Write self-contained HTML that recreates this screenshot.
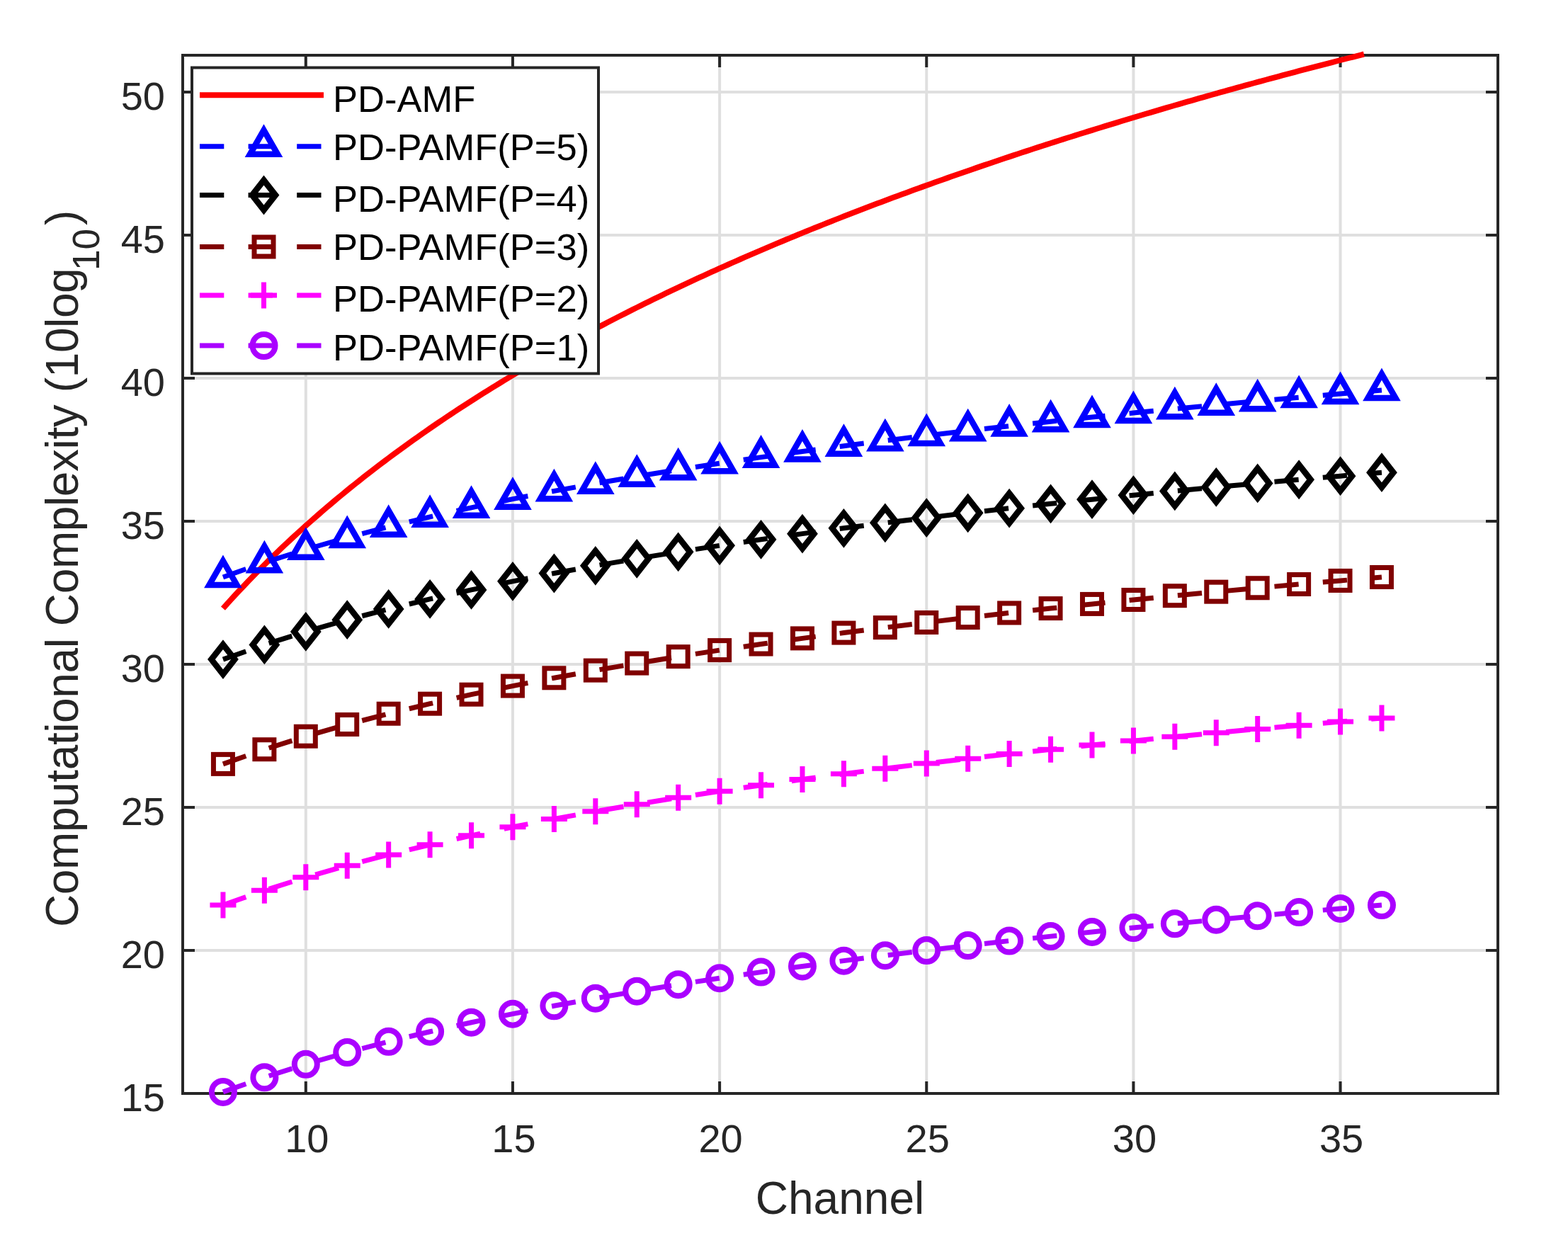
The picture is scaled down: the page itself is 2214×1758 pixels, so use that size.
<!DOCTYPE html>
<html><head><meta charset="utf-8"><title>Computational Complexity vs Channel</title>
<style>html,body{margin:0;padding:0;background:#fff;}body{width:2214px;height:1758px;overflow:hidden;}svg{display:block;}</style>
</head><body>
<svg width="2214" height="1758" viewBox="0 0 2214 1758">
<rect width="2214" height="1758" fill="#fff"/>
<defs><clipPath id="ax"><rect x="258" y="71" width="1857" height="1472"/></clipPath><clipPath id="axl"><rect x="198" y="18" width="1977" height="1586"/></clipPath></defs>
<path d="M431.8 78V1544M723.95 78V1544M1016.1 78V1544M1308.25 78V1544M1600.4 78V1544M1892.55 78V1544M258 1544H2115M258 1342H2115M258 1140H2115M258 938H2115M258 736H2115M258 534H2115M258 332H2115M258 130H2115" stroke="#dfdfdf" stroke-width="4" fill="none"/>
<path d="M431.8 1544V1527M431.8 78V95M723.95 1544V1527M723.95 78V95M1016.1 1544V1527M1016.1 78V95M1308.25 1544V1527M1308.25 78V95M1600.4 1544V1527M1600.4 78V95M1892.55 1544V1527M1892.55 78V95M258 1544H275M2115 1544H2098M258 1342H275M2115 1342H2098M258 1140H275M2115 1140H2098M258 938H275M2115 938H2098M258 736H275M2115 736H2098M258 534H275M2115 534H2098M258 332H275M2115 332H2098M258 130H275M2115 130H2098" stroke="#262626" stroke-width="4" fill="none"/>
<rect x="258" y="78" width="1857" height="1466" fill="none" stroke="#262626" stroke-width="4"/>
<g><path d="M314.94 859.08L320.78 852.59L326.63 846.17L332.47 839.83L338.31 833.57L344.15 827.38L350 821.26L355.84 815.22L361.68 809.24L367.53 803.33L373.37 797.48L379.21 791.7L385.06 785.98L390.9 780.33L396.74 774.73L402.58 769.19L408.43 763.71L414.27 758.29L420.11 752.92L425.96 747.6L431.8 742.34L437.64 737.13L443.49 731.98L449.33 726.87L455.17 721.81L461.01 716.8L466.86 711.84L472.7 706.92L478.54 702.05L484.39 697.22L490.23 692.44L496.07 687.7L501.92 683L507.76 678.34L513.6 673.73L519.44 669.15L525.29 664.62L531.13 660.12L536.97 655.66L542.82 651.24L548.66 646.86L554.5 642.51L560.35 638.19L566.19 633.92L572.03 629.67L577.87 625.46L583.72 621.29L589.56 617.15L595.4 613.03L601.25 608.96L607.09 604.91L612.93 600.89L618.78 596.91L624.62 592.95L630.46 589.02L636.3 585.13L642.15 581.26L647.99 577.42L653.83 573.6L659.68 569.82L665.52 566.06L671.36 562.33L677.21 558.62L683.05 554.94L688.89 551.29L694.73 547.66L700.58 544.06L706.42 540.48L712.26 536.92L718.11 533.39L723.95 529.88L729.79 526.4L735.64 522.94L741.48 519.5L747.32 516.08L753.16 512.68L759.01 509.31L764.85 505.96L770.69 502.63L776.54 499.32L782.38 496.03L788.22 492.76L794.07 489.51L799.91 486.29L805.75 483.08L811.59 479.89L817.44 476.72L823.28 473.57L829.12 470.44L834.97 467.32L840.81 464.23L846.65 461.15L852.5 458.09L858.34 455.05L864.18 452.02L870.02 449.02L875.87 446.03L881.71 443.06L887.55 440.1L893.4 437.16L899.24 434.24L905.08 431.33L910.93 428.44L916.77 425.56L922.61 422.7L928.46 419.86L934.3 417.03L940.14 414.21L945.98 411.42L951.83 408.63L957.67 405.86L963.51 403.11L969.36 400.37L975.2 397.64L981.04 394.93L986.89 392.23L992.73 389.54L998.57 386.87L1004.41 384.21L1010.26 381.57L1016.1 378.94L1021.94 376.32L1027.79 373.72L1033.63 371.12L1039.47 368.54L1045.32 365.98L1051.16 363.42L1057 360.88L1062.84 358.35L1068.69 355.83L1074.53 353.33L1080.37 350.83L1086.22 348.35L1092.06 345.88L1097.9 343.42L1103.75 340.97L1109.59 338.54L1115.43 336.11L1121.27 333.7L1127.12 331.29L1132.96 328.9L1138.8 326.52L1144.65 324.15L1150.49 321.79L1156.33 319.44L1162.18 317.1L1168.02 314.77L1173.86 312.46L1179.7 310.15L1185.55 307.85L1191.39 305.56L1197.23 303.28L1203.08 301.02L1208.92 298.76L1214.76 296.51L1220.61 294.27L1226.45 292.04L1232.29 289.82L1238.13 287.61L1243.98 285.41L1249.82 283.21L1255.66 281.03L1261.51 278.85L1267.35 276.69L1273.19 274.53L1279.04 272.38L1284.88 270.24L1290.72 268.11L1296.56 265.99L1302.41 263.88L1308.25 261.77L1314.09 259.68L1319.94 257.59L1325.78 255.51L1331.62 253.44L1337.47 251.37L1343.31 249.32L1349.15 247.27L1354.99 245.23L1360.84 243.2L1366.68 241.17L1372.52 239.16L1378.37 237.15L1384.21 235.15L1390.05 233.15L1395.9 231.17L1401.74 229.19L1407.58 227.22L1413.42 225.26L1419.27 223.3L1425.11 221.35L1430.95 219.41L1436.8 217.47L1442.64 215.55L1448.48 213.63L1454.33 211.71L1460.17 209.8L1466.01 207.91L1471.85 206.01L1477.7 204.13L1483.54 202.25L1489.38 200.37L1495.23 198.51L1501.07 196.65L1506.91 194.79L1512.76 192.95L1518.6 191.11L1524.44 189.27L1530.28 187.45L1536.13 185.63L1541.97 183.81L1547.81 182L1553.66 180.2L1559.5 178.4L1565.34 176.61L1571.19 174.83L1577.03 173.05L1582.87 171.28L1588.71 169.51L1594.56 167.75L1600.4 166L1606.24 164.25L1612.09 162.51L1617.93 160.77L1623.77 159.04L1629.62 157.32L1635.46 155.6L1641.3 153.88L1647.14 152.17L1652.99 150.47L1658.83 148.77L1664.67 147.08L1670.52 145.39L1676.36 143.71L1682.2 142.04L1688.05 140.36L1693.89 138.7L1699.73 137.04L1705.57 135.38L1711.42 133.73L1717.26 132.09L1723.1 130.45L1728.95 128.82L1734.79 127.19L1740.63 125.56L1746.48 123.94L1752.32 122.33L1758.16 120.72L1764 119.11L1769.85 117.51L1775.69 115.92L1781.53 114.33L1787.38 112.75L1793.22 111.16L1799.06 109.59L1804.91 108.02L1810.75 106.45L1816.59 104.89L1822.43 103.33L1828.28 101.78L1834.12 100.23L1839.96 98.69L1845.81 97.15L1851.65 95.62L1857.49 94.09L1863.34 92.56L1869.18 91.04L1875.02 89.52L1880.86 88.01L1886.71 86.5L1892.55 85L1898.39 83.5L1904.24 82L1910.08 80.51L1915.92 79.03L1921.77 77.54L1925.89 76.5" fill="none" stroke="#ff0000" stroke-width="8"/><path d="M314.94 814.99L373.37 794.32L431.8 775.83L490.23 759.11L548.66 743.84L607.09 729.8L665.52 716.8L723.95 704.69L782.38 693.37L840.81 682.73L899.24 672.7L957.67 663.22L1016.1 654.22L1074.53 645.66L1132.96 637.5L1191.39 629.7L1249.82 622.23L1308.25 615.07L1366.68 608.18L1425.11 601.56L1483.54 595.18L1541.97 589.03L1600.4 583.08L1658.83 577.32L1717.26 571.75L1775.69 566.35L1834.12 561.12L1892.55 556.03L1950.98 551.09" fill="none" stroke="#0000ff" stroke-width="7" stroke-dasharray="34.3 34.3"/><polygon points="314.94,791.99 334.44,825.99 295.44,825.99" fill="none" stroke="#0000ff" stroke-width="8.5" stroke-linejoin="miter"/><polygon points="373.37,771.32 392.87,805.32 353.87,805.32" fill="none" stroke="#0000ff" stroke-width="8.5" stroke-linejoin="miter"/><polygon points="431.8,752.83 451.3,786.83 412.3,786.83" fill="none" stroke="#0000ff" stroke-width="8.5" stroke-linejoin="miter"/><polygon points="490.23,736.11 509.73,770.11 470.73,770.11" fill="none" stroke="#0000ff" stroke-width="8.5" stroke-linejoin="miter"/><polygon points="548.66,720.84 568.16,754.84 529.16,754.84" fill="none" stroke="#0000ff" stroke-width="8.5" stroke-linejoin="miter"/><polygon points="607.09,706.8 626.59,740.8 587.59,740.8" fill="none" stroke="#0000ff" stroke-width="8.5" stroke-linejoin="miter"/><polygon points="665.52,693.8 685.02,727.8 646.02,727.8" fill="none" stroke="#0000ff" stroke-width="8.5" stroke-linejoin="miter"/><polygon points="723.95,681.69 743.45,715.69 704.45,715.69" fill="none" stroke="#0000ff" stroke-width="8.5" stroke-linejoin="miter"/><polygon points="782.38,670.37 801.88,704.37 762.88,704.37" fill="none" stroke="#0000ff" stroke-width="8.5" stroke-linejoin="miter"/><polygon points="840.81,659.73 860.31,693.73 821.31,693.73" fill="none" stroke="#0000ff" stroke-width="8.5" stroke-linejoin="miter"/><polygon points="899.24,649.7 918.74,683.7 879.74,683.7" fill="none" stroke="#0000ff" stroke-width="8.5" stroke-linejoin="miter"/><polygon points="957.67,640.22 977.17,674.22 938.17,674.22" fill="none" stroke="#0000ff" stroke-width="8.5" stroke-linejoin="miter"/><polygon points="1016.1,631.22 1035.6,665.22 996.6,665.22" fill="none" stroke="#0000ff" stroke-width="8.5" stroke-linejoin="miter"/><polygon points="1074.53,622.66 1094.03,656.66 1055.03,656.66" fill="none" stroke="#0000ff" stroke-width="8.5" stroke-linejoin="miter"/><polygon points="1132.96,614.5 1152.46,648.5 1113.46,648.5" fill="none" stroke="#0000ff" stroke-width="8.5" stroke-linejoin="miter"/><polygon points="1191.39,606.7 1210.89,640.7 1171.89,640.7" fill="none" stroke="#0000ff" stroke-width="8.5" stroke-linejoin="miter"/><polygon points="1249.82,599.23 1269.32,633.23 1230.32,633.23" fill="none" stroke="#0000ff" stroke-width="8.5" stroke-linejoin="miter"/><polygon points="1308.25,592.07 1327.75,626.07 1288.75,626.07" fill="none" stroke="#0000ff" stroke-width="8.5" stroke-linejoin="miter"/><polygon points="1366.68,585.18 1386.18,619.18 1347.18,619.18" fill="none" stroke="#0000ff" stroke-width="8.5" stroke-linejoin="miter"/><polygon points="1425.11,578.56 1444.61,612.56 1405.61,612.56" fill="none" stroke="#0000ff" stroke-width="8.5" stroke-linejoin="miter"/><polygon points="1483.54,572.18 1503.04,606.18 1464.04,606.18" fill="none" stroke="#0000ff" stroke-width="8.5" stroke-linejoin="miter"/><polygon points="1541.97,566.03 1561.47,600.03 1522.47,600.03" fill="none" stroke="#0000ff" stroke-width="8.5" stroke-linejoin="miter"/><polygon points="1600.4,560.08 1619.9,594.08 1580.9,594.08" fill="none" stroke="#0000ff" stroke-width="8.5" stroke-linejoin="miter"/><polygon points="1658.83,554.32 1678.33,588.32 1639.33,588.32" fill="none" stroke="#0000ff" stroke-width="8.5" stroke-linejoin="miter"/><polygon points="1717.26,548.75 1736.76,582.75 1697.76,582.75" fill="none" stroke="#0000ff" stroke-width="8.5" stroke-linejoin="miter"/><polygon points="1775.69,543.35 1795.19,577.35 1756.19,577.35" fill="none" stroke="#0000ff" stroke-width="8.5" stroke-linejoin="miter"/><polygon points="1834.12,538.12 1853.62,572.12 1814.62,572.12" fill="none" stroke="#0000ff" stroke-width="8.5" stroke-linejoin="miter"/><polygon points="1892.55,533.03 1912.05,567.03 1873.05,567.03" fill="none" stroke="#0000ff" stroke-width="8.5" stroke-linejoin="miter"/><polygon points="1950.98,528.09 1970.48,562.09 1931.48,562.09" fill="none" stroke="#0000ff" stroke-width="8.5" stroke-linejoin="miter"/><path d="M314.94 931.12L373.37 910.45L431.8 891.97L490.23 875.24L548.66 859.98L607.09 845.93L665.52 832.93L723.95 820.83L782.38 809.5L840.81 798.87L899.24 788.84L957.67 779.35L1016.1 770.35L1074.53 761.79L1132.96 753.63L1191.39 745.83L1249.82 738.36L1308.25 731.2L1366.68 724.32L1425.11 717.7L1483.54 711.32L1541.97 705.16L1600.4 699.21L1658.83 693.46L1717.26 687.89L1775.69 682.49L1834.12 677.25L1892.55 672.16L1950.98 667.22" fill="none" stroke="#000000" stroke-width="7" stroke-dasharray="34.3 34.3"/><polygon points="314.94,910.12 331.44,931.12 314.94,952.12 298.44,931.12" fill="none" stroke="#000000" stroke-width="8.5" stroke-linejoin="miter"/><polygon points="373.37,889.45 389.87,910.45 373.37,931.45 356.87,910.45" fill="none" stroke="#000000" stroke-width="8.5" stroke-linejoin="miter"/><polygon points="431.8,870.97 448.3,891.97 431.8,912.97 415.3,891.97" fill="none" stroke="#000000" stroke-width="8.5" stroke-linejoin="miter"/><polygon points="490.23,854.24 506.73,875.24 490.23,896.24 473.73,875.24" fill="none" stroke="#000000" stroke-width="8.5" stroke-linejoin="miter"/><polygon points="548.66,838.98 565.16,859.98 548.66,880.98 532.16,859.98" fill="none" stroke="#000000" stroke-width="8.5" stroke-linejoin="miter"/><polygon points="607.09,824.93 623.59,845.93 607.09,866.93 590.59,845.93" fill="none" stroke="#000000" stroke-width="8.5" stroke-linejoin="miter"/><polygon points="665.52,811.93 682.02,832.93 665.52,853.93 649.02,832.93" fill="none" stroke="#000000" stroke-width="8.5" stroke-linejoin="miter"/><polygon points="723.95,799.83 740.45,820.83 723.95,841.83 707.45,820.83" fill="none" stroke="#000000" stroke-width="8.5" stroke-linejoin="miter"/><polygon points="782.38,788.5 798.88,809.5 782.38,830.5 765.88,809.5" fill="none" stroke="#000000" stroke-width="8.5" stroke-linejoin="miter"/><polygon points="840.81,777.87 857.31,798.87 840.81,819.87 824.31,798.87" fill="none" stroke="#000000" stroke-width="8.5" stroke-linejoin="miter"/><polygon points="899.24,767.84 915.74,788.84 899.24,809.84 882.74,788.84" fill="none" stroke="#000000" stroke-width="8.5" stroke-linejoin="miter"/><polygon points="957.67,758.35 974.17,779.35 957.67,800.35 941.17,779.35" fill="none" stroke="#000000" stroke-width="8.5" stroke-linejoin="miter"/><polygon points="1016.1,749.35 1032.6,770.35 1016.1,791.35 999.6,770.35" fill="none" stroke="#000000" stroke-width="8.5" stroke-linejoin="miter"/><polygon points="1074.53,740.79 1091.03,761.79 1074.53,782.79 1058.03,761.79" fill="none" stroke="#000000" stroke-width="8.5" stroke-linejoin="miter"/><polygon points="1132.96,732.63 1149.46,753.63 1132.96,774.63 1116.46,753.63" fill="none" stroke="#000000" stroke-width="8.5" stroke-linejoin="miter"/><polygon points="1191.39,724.83 1207.89,745.83 1191.39,766.83 1174.89,745.83" fill="none" stroke="#000000" stroke-width="8.5" stroke-linejoin="miter"/><polygon points="1249.82,717.36 1266.32,738.36 1249.82,759.36 1233.32,738.36" fill="none" stroke="#000000" stroke-width="8.5" stroke-linejoin="miter"/><polygon points="1308.25,710.2 1324.75,731.2 1308.25,752.2 1291.75,731.2" fill="none" stroke="#000000" stroke-width="8.5" stroke-linejoin="miter"/><polygon points="1366.68,703.32 1383.18,724.32 1366.68,745.32 1350.18,724.32" fill="none" stroke="#000000" stroke-width="8.5" stroke-linejoin="miter"/><polygon points="1425.11,696.7 1441.61,717.7 1425.11,738.7 1408.61,717.7" fill="none" stroke="#000000" stroke-width="8.5" stroke-linejoin="miter"/><polygon points="1483.54,690.32 1500.04,711.32 1483.54,732.32 1467.04,711.32" fill="none" stroke="#000000" stroke-width="8.5" stroke-linejoin="miter"/><polygon points="1541.97,684.16 1558.47,705.16 1541.97,726.16 1525.47,705.16" fill="none" stroke="#000000" stroke-width="8.5" stroke-linejoin="miter"/><polygon points="1600.4,678.21 1616.9,699.21 1600.4,720.21 1583.9,699.21" fill="none" stroke="#000000" stroke-width="8.5" stroke-linejoin="miter"/><polygon points="1658.83,672.46 1675.33,693.46 1658.83,714.46 1642.33,693.46" fill="none" stroke="#000000" stroke-width="8.5" stroke-linejoin="miter"/><polygon points="1717.26,666.89 1733.76,687.89 1717.26,708.89 1700.76,687.89" fill="none" stroke="#000000" stroke-width="8.5" stroke-linejoin="miter"/><polygon points="1775.69,661.49 1792.19,682.49 1775.69,703.49 1759.19,682.49" fill="none" stroke="#000000" stroke-width="8.5" stroke-linejoin="miter"/><polygon points="1834.12,656.25 1850.62,677.25 1834.12,698.25 1817.62,677.25" fill="none" stroke="#000000" stroke-width="8.5" stroke-linejoin="miter"/><polygon points="1892.55,651.16 1909.05,672.16 1892.55,693.16 1876.05,672.16" fill="none" stroke="#000000" stroke-width="8.5" stroke-linejoin="miter"/><polygon points="1950.98,646.22 1967.48,667.22 1950.98,688.22 1934.48,667.22" fill="none" stroke="#000000" stroke-width="8.5" stroke-linejoin="miter"/><path d="M314.94 1078.88L373.37 1058.22L431.8 1039.73L490.23 1023.01L548.66 1007.74L607.09 993.7L665.52 980.7L723.95 968.59L782.38 957.27L840.81 946.63L899.24 936.6L957.67 927.12L1016.1 918.12L1074.53 909.56L1132.96 901.39L1191.39 893.59L1249.82 886.13L1308.25 878.96L1366.68 872.08L1425.11 865.46L1483.54 859.08L1541.97 852.92L1600.4 846.98L1658.83 841.22L1717.26 835.65L1775.69 830.25L1834.12 825.01L1892.55 819.93L1950.98 814.99" fill="none" stroke="#800000" stroke-width="7" stroke-dasharray="34.3 34.3"/><rect x="301.44" y="1065.38" width="27.0" height="27.0" fill="none" stroke="#800000" stroke-width="7"/><rect x="359.87" y="1044.72" width="27.0" height="27.0" fill="none" stroke="#800000" stroke-width="7"/><rect x="418.3" y="1026.23" width="27.0" height="27.0" fill="none" stroke="#800000" stroke-width="7"/><rect x="476.73" y="1009.51" width="27.0" height="27.0" fill="none" stroke="#800000" stroke-width="7"/><rect x="535.16" y="994.24" width="27.0" height="27.0" fill="none" stroke="#800000" stroke-width="7"/><rect x="593.59" y="980.2" width="27.0" height="27.0" fill="none" stroke="#800000" stroke-width="7"/><rect x="652.02" y="967.2" width="27.0" height="27.0" fill="none" stroke="#800000" stroke-width="7"/><rect x="710.45" y="955.09" width="27.0" height="27.0" fill="none" stroke="#800000" stroke-width="7"/><rect x="768.88" y="943.77" width="27.0" height="27.0" fill="none" stroke="#800000" stroke-width="7"/><rect x="827.31" y="933.13" width="27.0" height="27.0" fill="none" stroke="#800000" stroke-width="7"/><rect x="885.74" y="923.1" width="27.0" height="27.0" fill="none" stroke="#800000" stroke-width="7"/><rect x="944.17" y="913.62" width="27.0" height="27.0" fill="none" stroke="#800000" stroke-width="7"/><rect x="1002.6" y="904.62" width="27.0" height="27.0" fill="none" stroke="#800000" stroke-width="7"/><rect x="1061.03" y="896.06" width="27.0" height="27.0" fill="none" stroke="#800000" stroke-width="7"/><rect x="1119.46" y="887.89" width="27.0" height="27.0" fill="none" stroke="#800000" stroke-width="7"/><rect x="1177.89" y="880.09" width="27.0" height="27.0" fill="none" stroke="#800000" stroke-width="7"/><rect x="1236.32" y="872.63" width="27.0" height="27.0" fill="none" stroke="#800000" stroke-width="7"/><rect x="1294.75" y="865.46" width="27.0" height="27.0" fill="none" stroke="#800000" stroke-width="7"/><rect x="1353.18" y="858.58" width="27.0" height="27.0" fill="none" stroke="#800000" stroke-width="7"/><rect x="1411.61" y="851.96" width="27.0" height="27.0" fill="none" stroke="#800000" stroke-width="7"/><rect x="1470.04" y="845.58" width="27.0" height="27.0" fill="none" stroke="#800000" stroke-width="7"/><rect x="1528.47" y="839.42" width="27.0" height="27.0" fill="none" stroke="#800000" stroke-width="7"/><rect x="1586.9" y="833.48" width="27.0" height="27.0" fill="none" stroke="#800000" stroke-width="7"/><rect x="1645.33" y="827.72" width="27.0" height="27.0" fill="none" stroke="#800000" stroke-width="7"/><rect x="1703.76" y="822.15" width="27.0" height="27.0" fill="none" stroke="#800000" stroke-width="7"/><rect x="1762.19" y="816.75" width="27.0" height="27.0" fill="none" stroke="#800000" stroke-width="7"/><rect x="1820.62" y="811.51" width="27.0" height="27.0" fill="none" stroke="#800000" stroke-width="7"/><rect x="1879.05" y="806.43" width="27.0" height="27.0" fill="none" stroke="#800000" stroke-width="7"/><rect x="1937.48" y="801.49" width="27.0" height="27.0" fill="none" stroke="#800000" stroke-width="7"/><path d="M314.94 1278.02L373.37 1257.36L431.8 1238.87L490.23 1222.15L548.66 1206.88L607.09 1192.84L665.52 1179.83L723.95 1167.73L782.38 1156.41L840.81 1145.77L899.24 1135.74L957.67 1126.25L1016.1 1117.25L1074.53 1108.69L1132.96 1100.53L1191.39 1092.73L1249.82 1085.26L1308.25 1078.1L1366.68 1071.22L1425.11 1064.6L1483.54 1058.22L1541.97 1052.06L1600.4 1046.11L1658.83 1040.36L1717.26 1034.79L1775.69 1029.39L1834.12 1024.15L1892.55 1019.07L1950.98 1014.12" fill="none" stroke="#ff00ff" stroke-width="7" stroke-dasharray="34.3 34.3"/><path d="M296.44 1278.02H333.44M314.94 1259.52V1296.52" fill="none" stroke="#ff00ff" stroke-width="7"/><path d="M354.87 1257.36H391.87M373.37 1238.86V1275.86" fill="none" stroke="#ff00ff" stroke-width="7"/><path d="M413.3 1238.87H450.3M431.8 1220.37V1257.37" fill="none" stroke="#ff00ff" stroke-width="7"/><path d="M471.73 1222.15H508.73M490.23 1203.65V1240.65" fill="none" stroke="#ff00ff" stroke-width="7"/><path d="M530.16 1206.88H567.16M548.66 1188.38V1225.38" fill="none" stroke="#ff00ff" stroke-width="7"/><path d="M588.59 1192.84H625.59M607.09 1174.34V1211.34" fill="none" stroke="#ff00ff" stroke-width="7"/><path d="M647.02 1179.83H684.02M665.52 1161.33V1198.33" fill="none" stroke="#ff00ff" stroke-width="7"/><path d="M705.45 1167.73H742.45M723.95 1149.23V1186.23" fill="none" stroke="#ff00ff" stroke-width="7"/><path d="M763.88 1156.41H800.88M782.38 1137.91V1174.91" fill="none" stroke="#ff00ff" stroke-width="7"/><path d="M822.31 1145.77H859.31M840.81 1127.27V1164.27" fill="none" stroke="#ff00ff" stroke-width="7"/><path d="M880.74 1135.74H917.74M899.24 1117.24V1154.24" fill="none" stroke="#ff00ff" stroke-width="7"/><path d="M939.17 1126.25H976.17M957.67 1107.75V1144.75" fill="none" stroke="#ff00ff" stroke-width="7"/><path d="M997.6 1117.25H1034.6M1016.1 1098.75V1135.75" fill="none" stroke="#ff00ff" stroke-width="7"/><path d="M1056.03 1108.69H1093.03M1074.53 1090.19V1127.19" fill="none" stroke="#ff00ff" stroke-width="7"/><path d="M1114.46 1100.53H1151.46M1132.96 1082.03V1119.03" fill="none" stroke="#ff00ff" stroke-width="7"/><path d="M1172.89 1092.73H1209.89M1191.39 1074.23V1111.23" fill="none" stroke="#ff00ff" stroke-width="7"/><path d="M1231.32 1085.26H1268.32M1249.82 1066.76V1103.76" fill="none" stroke="#ff00ff" stroke-width="7"/><path d="M1289.75 1078.1H1326.75M1308.25 1059.6V1096.6" fill="none" stroke="#ff00ff" stroke-width="7"/><path d="M1348.18 1071.22H1385.18M1366.68 1052.72V1089.72" fill="none" stroke="#ff00ff" stroke-width="7"/><path d="M1406.61 1064.6H1443.61M1425.11 1046.1V1083.1" fill="none" stroke="#ff00ff" stroke-width="7"/><path d="M1465.04 1058.22H1502.04M1483.54 1039.72V1076.72" fill="none" stroke="#ff00ff" stroke-width="7"/><path d="M1523.47 1052.06H1560.47M1541.97 1033.56V1070.56" fill="none" stroke="#ff00ff" stroke-width="7"/><path d="M1581.9 1046.11H1618.9M1600.4 1027.61V1064.61" fill="none" stroke="#ff00ff" stroke-width="7"/><path d="M1640.33 1040.36H1677.33M1658.83 1021.86V1058.86" fill="none" stroke="#ff00ff" stroke-width="7"/><path d="M1698.76 1034.79H1735.76M1717.26 1016.29V1053.29" fill="none" stroke="#ff00ff" stroke-width="7"/><path d="M1757.19 1029.39H1794.19M1775.69 1010.89V1047.89" fill="none" stroke="#ff00ff" stroke-width="7"/><path d="M1815.62 1024.15H1852.62M1834.12 1005.65V1042.65" fill="none" stroke="#ff00ff" stroke-width="7"/><path d="M1874.05 1019.07H1911.05M1892.55 1000.57V1037.57" fill="none" stroke="#ff00ff" stroke-width="7"/><path d="M1932.48 1014.12H1969.48M1950.98 995.62V1032.62" fill="none" stroke="#ff00ff" stroke-width="7"/><path d="M314.94 1541.92L373.37 1521.25L431.8 1502.77L490.23 1486.05L548.66 1470.78L607.09 1456.73L665.52 1443.73L723.95 1431.63L782.38 1420.3L840.81 1409.67L899.24 1399.64L957.67 1390.15L1016.1 1381.15L1074.53 1372.59L1132.96 1364.43L1191.39 1356.63L1249.82 1349.16L1308.25 1342L1366.68 1335.12L1425.11 1328.5L1483.54 1322.12L1541.97 1315.96L1600.4 1310.01L1658.83 1304.26L1717.26 1298.69L1775.69 1293.29L1834.12 1288.05L1892.55 1282.96L1950.98 1278.02" fill="none" stroke="#aa00ff" stroke-width="7" stroke-dasharray="34.3 34.3"/><circle cx="314.94" cy="1541.92" r="16" fill="none" stroke="#aa00ff" stroke-width="8"/><circle cx="373.37" cy="1521.25" r="16" fill="none" stroke="#aa00ff" stroke-width="8"/><circle cx="431.8" cy="1502.77" r="16" fill="none" stroke="#aa00ff" stroke-width="8"/><circle cx="490.23" cy="1486.05" r="16" fill="none" stroke="#aa00ff" stroke-width="8"/><circle cx="548.66" cy="1470.78" r="16" fill="none" stroke="#aa00ff" stroke-width="8"/><circle cx="607.09" cy="1456.73" r="16" fill="none" stroke="#aa00ff" stroke-width="8"/><circle cx="665.52" cy="1443.73" r="16" fill="none" stroke="#aa00ff" stroke-width="8"/><circle cx="723.95" cy="1431.63" r="16" fill="none" stroke="#aa00ff" stroke-width="8"/><circle cx="782.38" cy="1420.3" r="16" fill="none" stroke="#aa00ff" stroke-width="8"/><circle cx="840.81" cy="1409.67" r="16" fill="none" stroke="#aa00ff" stroke-width="8"/><circle cx="899.24" cy="1399.64" r="16" fill="none" stroke="#aa00ff" stroke-width="8"/><circle cx="957.67" cy="1390.15" r="16" fill="none" stroke="#aa00ff" stroke-width="8"/><circle cx="1016.1" cy="1381.15" r="16" fill="none" stroke="#aa00ff" stroke-width="8"/><circle cx="1074.53" cy="1372.59" r="16" fill="none" stroke="#aa00ff" stroke-width="8"/><circle cx="1132.96" cy="1364.43" r="16" fill="none" stroke="#aa00ff" stroke-width="8"/><circle cx="1191.39" cy="1356.63" r="16" fill="none" stroke="#aa00ff" stroke-width="8"/><circle cx="1249.82" cy="1349.16" r="16" fill="none" stroke="#aa00ff" stroke-width="8"/><circle cx="1308.25" cy="1342" r="16" fill="none" stroke="#aa00ff" stroke-width="8"/><circle cx="1366.68" cy="1335.12" r="16" fill="none" stroke="#aa00ff" stroke-width="8"/><circle cx="1425.11" cy="1328.5" r="16" fill="none" stroke="#aa00ff" stroke-width="8"/><circle cx="1483.54" cy="1322.12" r="16" fill="none" stroke="#aa00ff" stroke-width="8"/><circle cx="1541.97" cy="1315.96" r="16" fill="none" stroke="#aa00ff" stroke-width="8"/><circle cx="1600.4" cy="1310.01" r="16" fill="none" stroke="#aa00ff" stroke-width="8"/><circle cx="1658.83" cy="1304.26" r="16" fill="none" stroke="#aa00ff" stroke-width="8"/><circle cx="1717.26" cy="1298.69" r="16" fill="none" stroke="#aa00ff" stroke-width="8"/><circle cx="1775.69" cy="1293.29" r="16" fill="none" stroke="#aa00ff" stroke-width="8"/><circle cx="1834.12" cy="1288.05" r="16" fill="none" stroke="#aa00ff" stroke-width="8"/><circle cx="1892.55" cy="1282.96" r="16" fill="none" stroke="#aa00ff" stroke-width="8"/><circle cx="1950.98" cy="1278.02" r="16" fill="none" stroke="#aa00ff" stroke-width="8"/></g>
<g font-family="'Liberation Sans', Arial, Helvetica, sans-serif" font-size="56" fill="#262626"><text x="433.3" y="1627" text-anchor="middle">10</text><text x="725.45" y="1627" text-anchor="middle">15</text><text x="1017.6" y="1627" text-anchor="middle">20</text><text x="1309.75" y="1627" text-anchor="middle">25</text><text x="1601.9" y="1627" text-anchor="middle">30</text><text x="1894.05" y="1627" text-anchor="middle">35</text><text x="233" y="1569" text-anchor="end">15</text><text x="233" y="1367" text-anchor="end">20</text><text x="233" y="1165" text-anchor="end">25</text><text x="233" y="963" text-anchor="end">30</text><text x="233" y="761" text-anchor="end">35</text><text x="233" y="559" text-anchor="end">40</text><text x="233" y="357" text-anchor="end">45</text><text x="233" y="155" text-anchor="end">50</text></g>
<text x="1186" y="1714" text-anchor="middle" font-family="'Liberation Sans', Arial, Helvetica, sans-serif" font-size="64" fill="#262626">Channel</text>
<g transform="translate(110 1309) rotate(-90)" font-family="'Liberation Sans', Arial, Helvetica, sans-serif" fill="#262626"><text x="0" y="0" font-size="64" letter-spacing="-0.4">Computational Complexity (10log</text><text x="927" y="30" font-size="53">10</text><text x="991" y="0" font-size="64">)</text></g>
<g><rect x="271" y="95.5" width="574" height="432" fill="#fff" stroke="#262626" stroke-width="4"/><path d="M282 134.3H457" stroke="#ff0000" stroke-width="8"/><text x="470" y="157.9" font-family="'Liberation Sans', Arial, Helvetica, sans-serif" font-size="52.5" fill="#000">PD-AMF</text><path d="M282 206.8H457" stroke="#0000ff" stroke-width="7" stroke-dasharray="34.3 34.3"/><polygon points="372.5,183.8 392,217.8 353,217.8" fill="none" stroke="#0000ff" stroke-width="8.5" stroke-linejoin="miter"/><text x="470" y="226" font-family="'Liberation Sans', Arial, Helvetica, sans-serif" font-size="52.5" fill="#000">PD-PAMF(P=5)</text><path d="M282 275.5H457" stroke="#000000" stroke-width="7" stroke-dasharray="34.3 34.3"/><polygon points="372.5,254.5 389,275.5 372.5,296.5 356,275.5" fill="none" stroke="#000000" stroke-width="8.5" stroke-linejoin="miter"/><text x="470" y="298.5" font-family="'Liberation Sans', Arial, Helvetica, sans-serif" font-size="52.5" fill="#000">PD-PAMF(P=4)</text><path d="M282 348.5H457" stroke="#800000" stroke-width="7" stroke-dasharray="34.3 34.3"/><rect x="359" y="335" width="27.0" height="27.0" fill="none" stroke="#800000" stroke-width="7"/><text x="470" y="366.7" font-family="'Liberation Sans', Arial, Helvetica, sans-serif" font-size="52.5" fill="#000">PD-PAMF(P=3)</text><path d="M282 417H457" stroke="#ff00ff" stroke-width="7" stroke-dasharray="34.3 34.3"/><path d="M354 417H391M372.5 398.5V435.5" fill="none" stroke="#ff00ff" stroke-width="7"/><text x="470" y="440.4" font-family="'Liberation Sans', Arial, Helvetica, sans-serif" font-size="52.5" fill="#000">PD-PAMF(P=2)</text><path d="M282 488H457" stroke="#aa00ff" stroke-width="7" stroke-dasharray="34.3 34.3"/><circle cx="372.5" cy="488" r="16" fill="none" stroke="#aa00ff" stroke-width="8"/><text x="470" y="508.6" font-family="'Liberation Sans', Arial, Helvetica, sans-serif" font-size="52.5" fill="#000">PD-PAMF(P=1)</text></g>
</svg></body></html>
